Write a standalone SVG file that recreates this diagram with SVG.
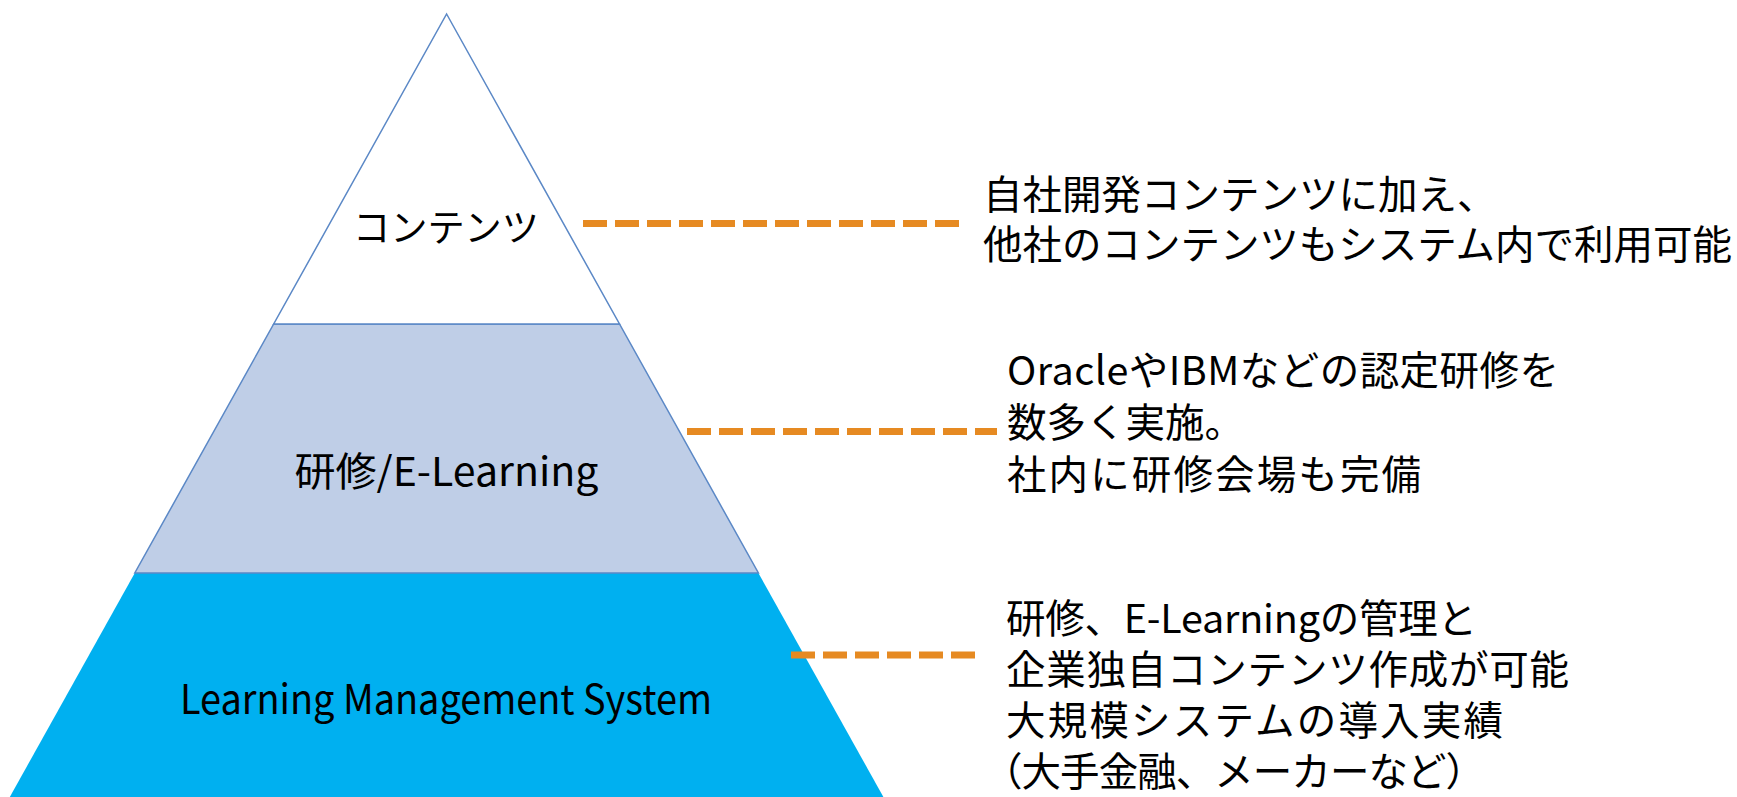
<svg xmlns="http://www.w3.org/2000/svg" width="1737" height="797" viewBox="0 0 1737 797">
<style>
.band{stroke:#5B88C6;stroke-width:1.5;stroke-linejoin:miter}
.lbl{font-family:"Noto Sans CJK JP","Noto Sans",sans-serif;fill:#000}
.note{font-family:"Noto Sans CJK JP","Noto Sans",sans-serif;fill:#000;font-size:39.5px}
.dash{stroke:#E68A22;stroke-width:7;stroke-dasharray:24 8;fill:none}
</style>
<rect width="1737" height="797" fill="#fff"/>
<g id="lms">
<polygon points="134.8,573 758.4,573 883.4,797 9.8,797" fill="#00B0F0"/>
<text class="lbl" x="446" y="714" font-size="41" text-anchor="middle" textLength="532" lengthAdjust="spacingAndGlyphs">Learning Management System</text>
</g>
<g id="training">
<polygon class="band" points="273.7,324 619.5,324 758.4,573 134.8,573" fill="#BFCEE7"/>
<text class="lbl" x="446.5" y="486" font-size="40" text-anchor="middle" textLength="304" lengthAdjust="spacingAndGlyphs">研修/E-Learning</text>
</g>
<g id="contents">
<polygon class="band" points="446.6,14 619.5,324 273.7,324" fill="#fff"/>
<text class="lbl" x="446" y="241" font-size="37.5" text-anchor="middle" textLength="186" lengthAdjust="spacingAndGlyphs">コンテンツ</text>
</g>
<g id="connectors">
<line class="dash" x1="583" y1="223.5" x2="959" y2="223.5"/>
<line class="dash" x1="687" y1="431.5" x2="997" y2="431.5"/>
<line class="dash" x1="791" y1="655" x2="975" y2="655"/>
</g>
<g id="note-contents">
<text class="note" x="983" y="209" font-size="39.4">自社開発コンテンツに加え、</text>
<text class="note" x="983" y="259" textLength="749">他社のコンテンツもシステム内で利用可能</text>
</g>
<g id="note-training">
<text class="note" x="1007" y="385" textLength="552">OracleやIBMなどの認定研修を</text>
<text class="note" x="1007" y="437">数多く実施。</text>
<text class="note" x="1007" y="489" textLength="414">社内に研修会場も完備</text>
</g>
<g id="note-lms">
<text class="note" x="1006" y="633" textLength="471">研修、E-Learningの管理と</text>
<text class="note" x="1006" y="684" textLength="563">企業独自コンテンツ作成が可能</text>
<text class="note" x="1006" y="735" textLength="497">大規模システムの導入実績</text>
<text class="note" x="983" y="786" textLength="502">（大手金融、メーカーなど）</text>
</g>
</svg>
